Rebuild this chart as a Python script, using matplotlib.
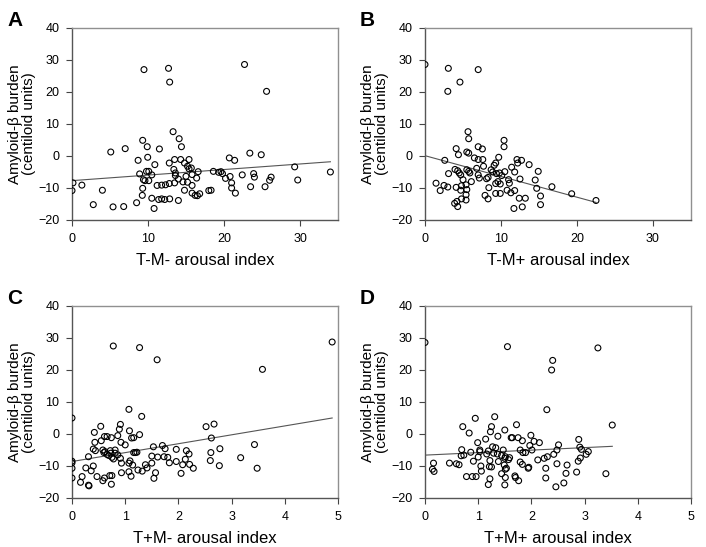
import matplotlib
matplotlib.use("Agg")
import matplotlib.pyplot as plt
import numpy as np

plt.rcParams['font.family'] = ['Liberation Sans', 'DejaVu Sans']

# Panel A: T-M- arousal index
a_x = [9.47, 12.7, 12.85, 22.7, 25.6, 13.3, 14.1, 14.4, 9.3, 9.9, 11.5, 5.1, 7.0, 9.96, 8.7, 10.9,
       12.8, 13.5, 14.3, 15.4, 14.8, 15.2, 15.7, 15.4, 13.4, 13.6, 13.6, 9.8, 10.1, 8.9, 10.5, 9.4,
       9.6, 10.1, 16.6, 15.8, 16.4, 15.0, 14.6, 14.0, 13.5, 12.8, 12.3, 11.8, 11.2, 15.8, 15.2, 9.3,
       9.25, 10.5, 11.4, 11.8, 12.2, 12.85, 14.0, 10.8, 8.5, 6.8, 5.4, 2.8, 4.0, 1.3, 0.13, 0.0,
       14.8, 15.8, 16.2, 16.5, 16.8, 18.0, 18.3, 18.6, 19.3, 19.6, 19.8, 20.2, 20.8, 21.0, 21.0, 21.5,
       20.7, 21.4, 22.4, 23.4, 24.9, 23.9, 24.0, 23.5, 25.4, 26.0, 26.2, 29.3, 29.7, 34.0]
a_y = [27.0, 27.4, 23.1, 28.6, 20.2, 7.6, 5.4, 2.9, 4.9, 2.9, 2.2, 1.25, 2.3, -0.4, -1.35, -2.7,
       -2.2, -1.1, -1.1, -1.1, -2.2, -3.2, -3.75, -4.0, -4.2, -5.3, -6.1, -4.8, -4.8, -5.6, -5.9, -7.4,
       -7.7, -7.7, -4.9, -5.8, -6.9, -6.35, -8.1, -7.2, -8.4, -8.6, -9.0, -9.1, -9.2, -9.2, -8.2, -10.1,
       -12.3, -13.2, -13.6, -13.4, -13.6, -13.4, -13.9, -16.4, -14.6, -15.8, -15.9, -15.2, -10.7, -9.1, -8.4, -10.8,
       -10.7, -11.6, -12.3, -12.4, -11.8, -10.8, -10.7, -4.8, -5.1, -4.9, -5.5, -7.0, -6.4, -8.4, -10.0, -11.6,
       -0.6, -1.35, -5.9, 0.9, 0.4, -5.5, -6.6, -9.6, -9.6, -7.6, -6.6, -3.4, -7.5, -5.0]
a_fit = [-7.7, -1.8]

# Panel B: T-M+ arousal index
b_x = [0.0, 3.07, 7.0, 4.6, 3.0, 5.66, 5.75, 10.4, 10.4, 7.0, 7.55, 4.1, 4.4, 5.5, 5.75, 2.6,
       6.5, 7.0, 7.6, 9.7, 12.1, 12.7, 12.2, 13.7, 9.3, 9.1, 7.7, 6.8, 5.75, 5.9, 3.95, 4.3,
       4.5, 4.7, 5.0, 3.1, 7.0, 7.15, 8.1, 8.3, 8.7, 8.9, 9.4, 9.8, 10.1, 10.5, 11.0, 9.6,
       9.3, 9.9, 11.4, 11.8, 12.5, 11.1, 11.8, 11.3, 10.8, 9.3, 9.9, 8.4, 7.9, 8.3, 6.1, 5.4,
       5.5, 5.4, 5.4, 4.8, 4.7, 4.8, 4.1, 3.9, 4.2, 4.3, 1.45, 2.0, 2.5, 3.0, 12.4, 13.2,
       11.7, 12.8, 14.5, 14.9, 14.7, 15.2, 15.2, 16.7, 19.3, 22.5, 5.5]
b_y = [28.6, 27.4, 27.0, 23.1, 20.2, 7.6, 5.4, 4.9, 2.9, 2.9, 2.2, 2.3, 0.4, 1.25, 0.9, -1.35,
       -0.6, -1.1, -1.1, -0.4, -1.1, -1.35, -2.2, -2.7, -2.2, -2.9, -3.2, -3.85, -4.8, -5.3, -4.2, -4.6,
       -5.3, -5.9, -7.4, -5.5, -5.9, -6.9, -7.1, -6.7, -4.3, -5.0, -5.5, -5.3, -6.1, -4.9, -7.4, -8.0,
       -8.6, -8.75, -3.5, -5.0, -7.2, -8.5, -10.8, -11.5, -10.7, -11.7, -11.7, -9.9, -12.3, -13.4, -8.0, -9.0,
       -10.5, -12.1, -13.75, -9.3, -10.7, -13.4, -9.8, -14.8, -14.2, -15.8, -8.5, -10.8, -9.2, -9.7, -13.2, -13.2,
       -16.4, -15.9, -7.5, -4.8, -10.1, -12.5, -15.2, -9.6, -11.8, -13.9, -4.3]
b_fit = [0.1, -14.5]

# Panel C: T+M- arousal index
c_x = [0.776, 1.27, 1.60, 4.89, 3.58, 1.07, 1.31, 0.0, 0.54, 0.42, 0.91, 0.89, 1.08, 1.27, 1.16, 1.12,
       0.86, 0.66, 0.61, 0.74, 0.43, 0.55, 0.92, 1.0, 0.40, 0.44, 0.58, 0.62, 0.72, 0.81, 0.60, 0.66,
       0.73, 0.81, 0.75, 0.69, 0.78, 0.86, 0.93, 0.91, 1.09, 1.07, 1.16, 1.19, 1.22, 1.14, 0.31, 0.0,
       0.0, 0.0, 0.0, 0.26, 0.36, 0.40, 0.19, 0.16, 0.31, 0.32, 0.47, 0.58, 0.61, 0.71, 0.75, 0.74,
       0.93, 1.07, 1.11, 1.24, 1.32, 1.38, 1.41, 1.50, 1.53, 1.50, 1.54, 1.57, 1.61, 1.70, 1.75, 1.73,
       1.80, 1.83, 1.96, 1.96, 2.05, 2.08, 2.13, 2.15, 2.20, 2.21, 2.28, 2.52, 2.67, 2.62, 2.61, 2.60,
       2.78, 2.77, 3.17, 3.43, 3.48]
c_y = [27.5, 27.0, 23.2, 28.75, 20.2, 7.7, 5.5, 5.0, 2.4, 0.5, 3.0, 1.5, 1.0, -0.2, -1.15, -1.25,
       -0.5, -0.8, -0.8, -1.15, -2.6, -2.1, -2.6, -3.4, -4.7, -5.2, -5.0, -5.5, -5.2, -5.0, -5.8, -6.4,
       -6.0, -6.0, -7.3, -6.7, -7.8, -6.5, -9.1, -7.6, -8.4, -9.1, -5.8, -5.8, -5.7, -9.7, -7.1, -8.5,
       -9.0, -10.7, -13.75, -10.6, -11.5, -10.0, -13.3, -15.1, -16.0, -16.2, -13.3, -14.6, -13.75, -13.0, -13.0, -15.7,
       -12.1, -11.8, -13.2, -11.25, -11.6, -9.6, -10.6, -9.1, -4.0, -6.9, -13.85, -12.1, -7.2, -3.6, -4.6, -7.1,
       -7.3, -9.0, -4.8, -8.6, -12.3, -9.6, -7.9, -5.2, -6.25, -9.5, -10.7, 2.3, 3.1, -1.25, -5.8, -8.3,
       -4.6, -9.9, -7.4, -3.3, -10.7]
c_fit = [-8.6, 5.0]

# Panel D: T+M+ arousal index
d_x = [0.0, 1.55, 3.25, 2.40, 2.38, 2.29, 3.52, 0.945, 1.31, 0.71, 0.83, 1.25, 1.23, 1.72, 1.50, 1.37,
       0.99, 1.14, 0.69, 0.86, 1.03, 1.03, 0.73, 0.91, 1.0, 1.62, 1.64, 1.75, 1.83, 1.99, 2.05, 2.15,
       1.97, 2.01, 1.79, 1.89, 1.84, 1.27, 1.33, 1.19, 1.29, 1.36, 1.47, 1.51, 1.50, 1.59, 1.57, 1.16,
       1.22, 1.38, 1.44, 1.49, 1.53, 1.51, 1.44, 1.51, 1.50, 1.25, 1.21, 1.06, 1.05, 1.22, 1.19, 0.96,
       0.89, 0.78, 1.79, 1.83, 1.69, 1.70, 1.76, 1.94, 1.95, 2.12, 2.24, 2.30, 2.42, 2.48, 2.51, 2.27,
       2.27, 2.48, 2.67, 2.65, 2.46, 2.61, 2.85, 2.88, 2.89, 2.91, 2.94, 2.92, 3.03, 3.07, 3.40, 0.16,
       0.14, 0.17, 0.46, 0.59, 0.64, 0.68]
d_y = [28.6, 27.3, 26.9, 23.0, 20.0, 7.6, 2.8, 4.9, 5.4, 2.3, 0.3, 2.3, 0.7, 2.9, 1.25, -0.7,
       -2.7, -1.6, -4.9, -5.7, -5.0, -5.5, -6.6, -8.5, -7.2, -1.15, -1.15, -1.15, -2.1, -0.4, -2.3, -2.7,
       -3.6, -5.0, -5.0, -5.8, -5.8, -4.0, -4.3, -5.3, -6.0, -6.25, -5.0, -7.1, -7.6, -7.4, -8.0, -6.25,
       -8.3, -8.6, -6.7, -9.7, -10.7, -11.0, -12.4, -13.6, -15.9, -10.3, -10.2, -11.6, -10.0, -14.0, -15.8, -13.3,
       -13.3, -13.3, -8.75, -9.5, -13.1, -13.6, -14.6, -10.7, -10.4, -8.1, -7.6, -7.1, -6.35, -5.0, -3.4, -10.7,
       -13.75, -9.3, -9.7, -12.3, -16.5, -15.3, -11.9, -8.5, -1.7, -4.1, -4.8, -7.5, -6.35, -5.5, -12.4, -9.1,
       -11.0, -11.7, -9.1, -9.3, -9.6, -6.8]
d_fit = [-6.6, -3.85]

panels = [
    ("A", a_x, a_y, a_fit, "T-M- arousal index", (0, 35), [0, 10, 20, 30]),
    ("B", b_x, b_y, b_fit, "T-M+ arousal index", (0, 35), [0, 10, 20, 30]),
    ("C", c_x, c_y, c_fit, "T+M- arousal index", (0, 5), [0, 1, 2, 3, 4, 5]),
    ("D", d_x, d_y, d_fit, "T+M+ arousal index", (0, 5), [0, 1, 2, 3, 4, 5]),
]
y_ticks = [-20, -10, 0, 10, 20, 30, 40]

W, H = 706, 547
fig = plt.figure(figsize=(W / 100, H / 100), dpi=100)

boxes = {"A": (72, 28), "B": (425, 28), "C": (72, 306), "D": (425, 306)}
bw, bh = 266, 192

for letter, xs, ys, fit, xlabel, xlim, xt in panels:
    lx, ty = boxes[letter]
    ax = fig.add_axes([lx / W, (H - ty - bh) / H, bw / W, bh / H])
    ax.scatter(xs, ys, s=18, facecolors='none', edgecolors='black', linewidths=0.8, zorder=3)
    x0, x1 = 0, max(xs)
    ax.plot([x0, x1], fit, color='#555555', lw=0.8, zorder=2)
    ax.set_xlim(*xlim)
    ax.set_ylim(-20, 40)
    ax.set_xticks(xt)
    ax.set_yticks(y_ticks)
    ax.tick_params(direction='out', length=4, width=0.8, labelsize=9, pad=5, colors='#444444',
                   labelcolor='black')
    for side in ['top', 'right']:
        ax.spines[side].set_color('#909090')
        ax.spines[side].set_linewidth(1.0)
    for side in ['left', 'bottom']:
        ax.spines[side].set_color('#555555')
        ax.spines[side].set_linewidth(1.0)
    ax.set_xlabel(xlabel, fontsize=12, labelpad=6)
    ax.set_ylabel("Amyloid-β burden\n(centiloid units)", fontsize=11, linespacing=1.05)
    ax.yaxis.set_label_coords(-0.135, 0.5)
    fig.text((lx - 65) / W, 1 - (ty - 17) / H, letter, fontsize=15, fontweight='bold',
             va='top', ha='left')

fig.savefig("out.png", dpi=100)
